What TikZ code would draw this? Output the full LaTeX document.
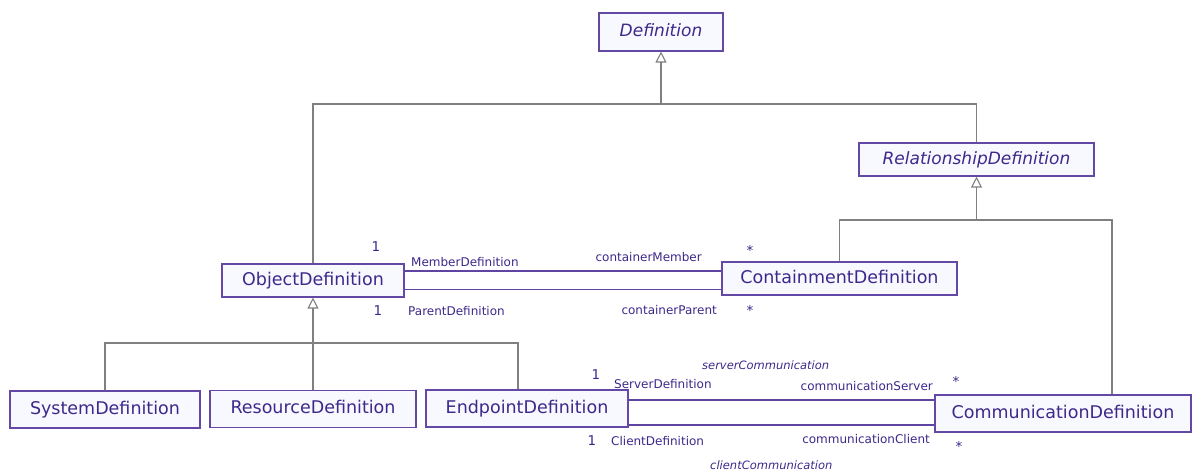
\documentclass[tikz,border=0pt]{standalone}
\usepackage{fontspec}
\setmainfont{DejaVu Sans}
\usetikzlibrary{arrows.meta}

\begin{document}
\begin{tikzpicture}[x=1pt,y=-1pt,
    classbox/.style={draw=boxline, fill=boxfill, line width=1.1pt, text=ink, inner sep=0pt,
        text height=12.5pt, text depth=3.5pt, font=\fontsize{17.5}{19}\selectfont},
    abstractbox/.style={classbox, font=\fontsize{17}{19}\selectfont\itshape},
    tree/.style={draw=treeline, line width=1.1pt},
    gen/.style={tree, -{Triangle[open, length=11pt, width=11pt]}},
    assoc/.style={draw=assocline, line width=1.1pt},
    role/.style={text=ink, inner sep=0pt, font=\fontsize{12}{14}\selectfont},
    mult/.style={text=ink, inner sep=0pt, font=\fontsize{13.5}{15}\selectfont}]

    % Define colors
    \definecolor{boxline}{RGB}{100,72,165}
    \definecolor{boxfill}{RGB}{248,248,255}
    \definecolor{ink}{RGB}{62,40,138}
    \definecolor{treeline}{RGB}{128,128,128}
    \definecolor{assocline}{RGB}{96,68,162}

    \useasboundingbox (0,0) rectangle (1192,471);

    % classes
    \node[abstractbox, minimum width=124pt, minimum height=38pt] (def) at (661,32) {Definition};
    \node[abstractbox, minimum width=235pt, minimum height=33pt] (rel) at (976.5,159.5) {RelationshipDefinition};
    \node[classbox, minimum width=182pt, minimum height=33pt] (obj) at (313,280.5) {ObjectDefinition};
    \node[classbox, minimum width=235pt, minimum height=33pt] (cont) at (839.5,278.5) {ContainmentDefinition};
    \node[classbox, minimum width=190pt, minimum height=37pt] (sys) at (105,409.5) {SystemDefinition};
    \node[classbox, minimum width=206pt, minimum height=37pt] (res) at (313,409) {ResourceDefinition};
    \node[classbox, minimum width=202pt, minimum height=37pt] (endp) at (527,408.5) {EndpointDefinition};
    \node[classbox, minimum width=256pt, minimum height=37pt] (comm) at (1063,413.5) {CommunicationDefinition};

    % generalizations
    \coordinate (defjoin) at (def.south |- 0,104);
    \coordinate (reljoin) at (rel.south |- 0,220);
    \coordinate (objjoin) at (obj.south |- 0,343);
    \coordinate (commtop) at ([xshift=49pt]comm.north);
    \coordinate (endptop) at ([xshift=-9pt]endp.north);

    \draw[gen] (defjoin) -- (def.south);
    \draw[tree] (obj.north) |- (defjoin) -| (rel.north);

    \draw[gen] (reljoin) -- (rel.south);
    \draw[tree] (cont.north) |- (reljoin) -| (commtop);

    \draw[gen] (objjoin) -- (obj.south);
    \draw[tree] (sys.north) |- (objjoin) -| (endptop);
    \draw[tree] (res.north) -- (objjoin);

    % containment associations
    \draw[assoc] ([yshift=9.5pt]obj.east) -- ([yshift=9.5pt]obj.east -| cont.west);
    \draw[assoc] ([yshift=-9pt]obj.east) -- ([yshift=-9pt]obj.east -| cont.west);

    \node[mult] (m1) at (376,247) {1};
    \node[role, anchor=west] (r1) at (411,262) {MemberDefinition};
    \node[role, anchor=east] (r2) at (702,257) {containerMember};
    \node[mult] (m2) at (750,250) {*};
    \node[mult] (m3) at (378,311) {1};
    \node[role, anchor=west] (r3) at (408,311) {ParentDefinition};
    \node[role, anchor=east] (r4) at (717,310) {containerParent};
    \node[mult] (m4) at (750,310) {*};

    % communication associations
    \draw[assoc] ([yshift=8.5pt]endp.east) -- ([yshift=8.5pt]endp.east -| comm.west);
    \draw[assoc] ([yshift=-16.5pt]endp.east) -- ([yshift=-16.5pt]endp.east -| comm.west);

    \node[role, anchor=west, font=\fontsize{11.5}{13}\selectfont\itshape] (s0) at (702,365) {serverCommunication};
    \node[mult] (m5) at (596,375) {1};
    \node[role, anchor=west] (s1) at (614,384) {ServerDefinition};
    \node[role, anchor=east] (s2) at (933,386) {communicationServer};
    \node[mult] (m6) at (956,381) {*};
    \node[mult] (m7) at (592,441) {1};
    \node[role, anchor=west] (c1) at (611,441) {ClientDefinition};
    \node[role, anchor=east] (c2) at (930,439) {communicationClient};
    \node[mult] (m8) at (959,446) {*};
    \node[role, anchor=west, font=\fontsize{11.5}{13}\selectfont\itshape] (c0) at (710,465) {clientCommunication};

\end{tikzpicture}
\end{document}
